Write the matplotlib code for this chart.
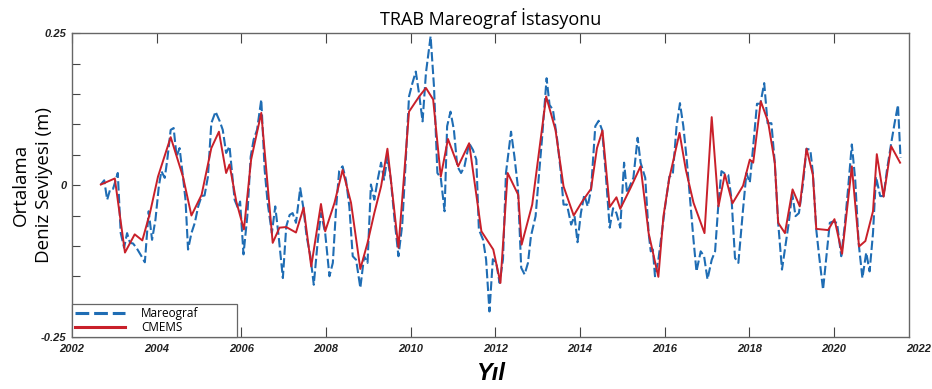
import matplotlib
matplotlib.use("Agg")
import matplotlib.pyplot as plt
import matplotlib.transforms as mtransforms
import numpy as np

# Mareograf (tide gauge) - approx. monthly values
mareo_yil = [
    2002.68, 2002.76, 2002.83, 2002.90, 2002.97, 2003.08, 2003.15, 2003.23, 2003.30, 2003.37,
    2003.44, 2003.52, 2003.64, 2003.72, 2003.81, 2003.89, 2003.97, 2004.05, 2004.11, 2004.19,
    2004.25, 2004.33, 2004.40, 2004.47, 2004.54, 2004.62, 2004.68, 2004.74, 2004.82, 2004.90,
    2004.98, 2005.06, 2005.13, 2005.21, 2005.29, 2005.39, 2005.49, 2005.56, 2005.64, 2005.72,
    2005.78, 2005.84, 2005.92, 2005.97, 2006.05, 2006.14, 2006.22, 2006.29, 2006.37, 2006.47,
    2006.55, 2006.62, 2006.72, 2006.80, 2006.88, 2006.98, 2007.06, 2007.14, 2007.21, 2007.29,
    2007.39, 2007.47, 2007.54, 2007.63, 2007.71, 2007.80, 2007.88, 2007.98, 2008.08, 2008.16,
    2008.24, 2008.31, 2008.39, 2008.47, 2008.55, 2008.63, 2008.71, 2008.81, 2008.90, 2008.98,
    2009.06, 2009.14, 2009.22, 2009.30, 2009.37, 2009.45, 2009.53, 2009.61, 2009.71, 2009.80,
    2009.88, 2009.96, 2010.04, 2010.12, 2010.20, 2010.28, 2010.36, 2010.47, 2010.55, 2010.63,
    2010.71, 2010.80, 2010.86, 2010.94, 2011.02, 2011.10, 2011.19, 2011.27, 2011.38, 2011.47,
    2011.55, 2011.61, 2011.71, 2011.78, 2011.86, 2011.94, 2012.02, 2012.10, 2012.18, 2012.25,
    2012.37, 2012.45, 2012.53, 2012.61, 2012.69, 2012.77, 2012.84, 2012.95, 2013.02, 2013.10,
    2013.21, 2013.28, 2013.36, 2013.46, 2013.54, 2013.61, 2013.69, 2013.79, 2013.87, 2013.94,
    2014.02, 2014.10, 2014.18, 2014.26, 2014.36, 2014.44, 2014.52, 2014.60, 2014.70, 2014.78,
    2014.86, 2014.95, 2015.04, 2015.11, 2015.19, 2015.26, 2015.36, 2015.43, 2015.54, 2015.62,
    2015.67, 2015.72, 2015.77, 2015.85, 2015.93, 2016.01, 2016.11, 2016.19, 2016.28, 2016.36,
    2016.44, 2016.52, 2016.60, 2016.68, 2016.75, 2016.85, 2016.93, 2017.01, 2017.11, 2017.19,
    2017.27, 2017.34, 2017.42, 2017.50, 2017.58, 2017.66, 2017.74, 2017.85, 2017.93, 2018.01,
    2018.09, 2018.18, 2018.26, 2018.35, 2018.43, 2018.52, 2018.60, 2018.68, 2018.77, 2018.85,
    2018.93, 2019.01, 2019.09, 2019.17, 2019.27, 2019.35, 2019.44, 2019.50, 2019.58, 2019.64,
    2019.74, 2019.82, 2019.90, 2019.97, 2020.07, 2020.17, 2020.25, 2020.33, 2020.42, 2020.50,
    2020.58, 2020.67, 2020.76, 2020.84, 2020.92, 2020.99, 2021.09, 2021.17, 2021.25, 2021.35,
    2021.43, 2021.51, 2021.57]
mareo_deger = [
    0.001, 0.008, -0.024, -0.007, -0.006, 0.020, -0.079, -0.103, -0.079, -0.095,
    -0.096, -0.103, -0.117, -0.127, -0.043, -0.090, -0.057, -0.002, 0.023, 0.012,
    0.042, 0.091, 0.094, 0.047, 0.061, 0.014, -0.024, -0.106, -0.079, -0.062,
    -0.035, -0.018, -0.017, 0.014, 0.102, 0.121, 0.105, 0.091, 0.053, 0.064,
    0.020, -0.024, -0.038, -0.027, -0.114, -0.051, 0.047, 0.075, 0.091, 0.141,
    0.025, -0.029, -0.079, -0.035, -0.084, -0.153, -0.068, -0.049, -0.046, -0.062,
    -0.005, -0.040, -0.084, -0.117, -0.164, -0.095, -0.046, -0.079, -0.150, -0.128,
    -0.035, 0.023, 0.031, 0.009, -0.035, -0.117, -0.123, -0.169, -0.117, -0.128,
    0.001, -0.024, 0.009, 0.037, 0.009, 0.047, 0.009, -0.051, -0.117, -0.065,
    0.037, 0.146, 0.168, 0.187, 0.149, 0.105, 0.185, 0.245, 0.162, 0.020,
    0.012, -0.043, 0.097, 0.121, 0.091, 0.031, 0.020, 0.031, 0.069, 0.058,
    0.042, -0.073, -0.090, -0.122, -0.208, -0.122, -0.128, -0.161, -0.122, 0.020,
    0.088, 0.047, -0.002, -0.136, -0.147, -0.128, -0.084, -0.051, 0.009, 0.075,
    0.176, 0.132, 0.124, 0.075, 0.025, -0.032, -0.032, -0.065, -0.051, -0.094,
    -0.046, -0.016, -0.035, -0.007, 0.097, 0.106, 0.091, 0.025, -0.070, -0.038,
    -0.046, -0.070, 0.037, -0.013, 0.001, 0.012, 0.078, 0.037, 0.012, -0.079,
    -0.109, -0.106, -0.150, -0.123, -0.079, -0.035, 0.014, 0.017, 0.097, 0.135,
    0.097, 0.042, -0.024, -0.090, -0.142, -0.109, -0.117, -0.155, -0.123, -0.109,
    -0.029, 0.023, 0.019, 0.017, -0.024, -0.120, -0.128, -0.040, 0.020, 0.004,
    0.064, 0.134, 0.134, 0.168, 0.102, 0.102, 0.037, -0.062, -0.139, -0.101,
    -0.062, -0.013, -0.051, -0.046, 0.004, 0.060, 0.058, 0.020, -0.073, -0.112,
    -0.172, -0.117, -0.062, -0.060, -0.062, -0.117, -0.068, -0.007, 0.067, 0.009,
    -0.095, -0.153, -0.111, -0.142, -0.079, 0.014, -0.018, -0.018, 0.025, 0.069,
    0.102, 0.132, 0.045]

# CMEMS (satellite altimetry)
cmems_yil = [
    2002.68, 2003.01, 2003.25, 2003.48, 2003.66, 2003.84, 2004.03, 2004.33, 2004.62, 2004.82,
    2005.06, 2005.29, 2005.47, 2005.64, 2005.72, 2005.88, 2006.06, 2006.23, 2006.47, 2006.74,
    2006.90, 2007.06, 2007.29, 2007.47, 2007.65, 2007.88, 2007.98, 2008.20, 2008.39, 2008.59,
    2008.81, 2008.98, 2009.14, 2009.30, 2009.45, 2009.71, 2009.96, 2010.20, 2010.36, 2010.53,
    2010.71, 2010.88, 2011.12, 2011.38, 2011.67, 2011.95, 2012.12, 2012.29, 2012.54, 2012.62,
    2012.87, 2013.20, 2013.42, 2013.61, 2013.85, 2014.05, 2014.26, 2014.40, 2014.53, 2014.70,
    2014.86, 2014.95, 2015.19, 2015.43, 2015.62, 2015.85, 2015.97, 2016.11, 2016.35, 2016.50,
    2016.68, 2016.94, 2017.11, 2017.27, 2017.42, 2017.60, 2017.85, 2018.01, 2018.09, 2018.27,
    2018.44, 2018.60, 2018.68, 2018.84, 2019.02, 2019.19, 2019.35, 2019.50, 2019.58, 2019.86,
    2020.01, 2020.19, 2020.42, 2020.59, 2020.74, 2020.92, 2021.01, 2021.17, 2021.35, 2021.56]
cmems_deger = [
    0.001, 0.011, -0.111, -0.081, -0.091, -0.046, 0.014, 0.079, 0.014, -0.050,
    -0.016, 0.061, 0.088, 0.020, 0.034, -0.027, -0.073, 0.042, 0.119, -0.095,
    -0.070, -0.069, -0.078, -0.037, -0.134, -0.031, -0.076, -0.029, 0.025, -0.029,
    -0.138, -0.095, -0.046, -0.002, 0.060, -0.103, 0.121, 0.146, 0.160, 0.141,
    0.014, 0.076, 0.031, 0.069, -0.076, -0.106, -0.161, 0.020, -0.016, -0.098,
    -0.032, 0.146, 0.091, -0.002, -0.050, -0.027, -0.006, 0.061, 0.090, -0.036,
    -0.020, -0.039, -0.005, 0.031, -0.079, -0.151, -0.051, 0.012, 0.086, 0.025,
    -0.029, -0.079, 0.112, -0.035, 0.018, -0.030, -0.001, 0.042, 0.037, 0.138,
    0.105, 0.037, -0.062, -0.079, -0.007, -0.035, 0.060, 0.017, -0.072, -0.074,
    -0.056, -0.113, 0.031, -0.101, -0.092, -0.043, 0.051, -0.019, 0.064, 0.037]

x_ticks = list(range(2002, 2021, 2))
son_yil = 2022
y_ticks = np.round(np.arange(-0.25, 0.26, 0.05), 2)
y_labels = ["-0.25", "", "", "", "", "0", "", "", "", "", "0.25"]

narrow = ["Liberation Sans Narrow", "Liberation Sans", "DejaVu Sans"]
sans = ["Open Sans", "DejaVu Sans"]

fig = plt.figure(figsize=(9.32, 3.89), dpi=100)
ax = fig.add_axes([0.0773, 0.1337, 0.898, 0.7807])

ax.plot(mareo_yil, mareo_deger, color="#1f6db4", lw=1.5, dashes=(4.5, 1.6),
        label="Mareograf")
ax.plot(cmems_yil, cmems_deger, color="#c9202a", lw=1.4, label="CMEMS")

ax.set_xlim(2002, 2021.77)
ax.set_ylim(-0.25, 0.25)

ax.set_xticks(x_ticks)
ax.set_xticklabels([str(t) for t in x_ticks])
ax.set_yticks(y_ticks)
ax.set_yticklabels(y_labels)
ax.tick_params(axis="x", direction="in", top=True, length=7, width=0.8,
               color="#444444", pad=5)
ax.tick_params(axis="y", direction="in", right=False, length=6, width=0.8,
               color="#444444", pad=4)
for lab in ax.get_xticklabels() + ax.get_yticklabels():
    lab.set_family(narrow)
    lab.set_fontsize(8)
    lab.set_fontweight("bold")
    lab.set_fontstyle("italic")
    lab.set_color("#222222")

# last year label sits just past the right edge, same row as the tick labels
trans = mtransforms.offset_copy(ax.get_xaxis_transform(), fig=fig, y=-5,
                                units="points")
ax.text(son_yil, 0, str(son_yil), transform=trans, ha="center", va="top",
        fontsize=8, fontweight="bold", fontstyle="italic", family=narrow,
        color="#222222", clip_on=False)

for sp in ax.spines.values():
    sp.set_color("#666666")
    sp.set_linewidth(1.0)

ax.set_title("TRAB Mareograf İstasyonu", family=sans, fontsize=13, pad=6)
ax.set_xlabel("Yıl", family=narrow, fontsize=17, fontweight="bold",
              fontstyle="italic", labelpad=6)
fig.text(0.035, 0.525, "Ortalama\nDeniz Seviyesi (m)", family=sans,
         fontsize=13.5, rotation=90, ha="center", va="center",
         multialignment="center", linespacing=1.35)

leg = ax.legend(loc="lower left", bbox_to_anchor=(0, 0, 0.197, 0.095),
                mode="expand", borderaxespad=0, fancybox=False,
                edgecolor="#666666", framealpha=1,
                prop={"family": sans, "size": 8.5},
                handlelength=4.2, handletextpad=1.4, labelspacing=0.1,
                borderpad=0.25)
leg.get_frame().set_linewidth(0.9)
for h in leg.get_lines():
    h.set_linewidth(2.2)

fig.savefig("out.png", dpi=100)
